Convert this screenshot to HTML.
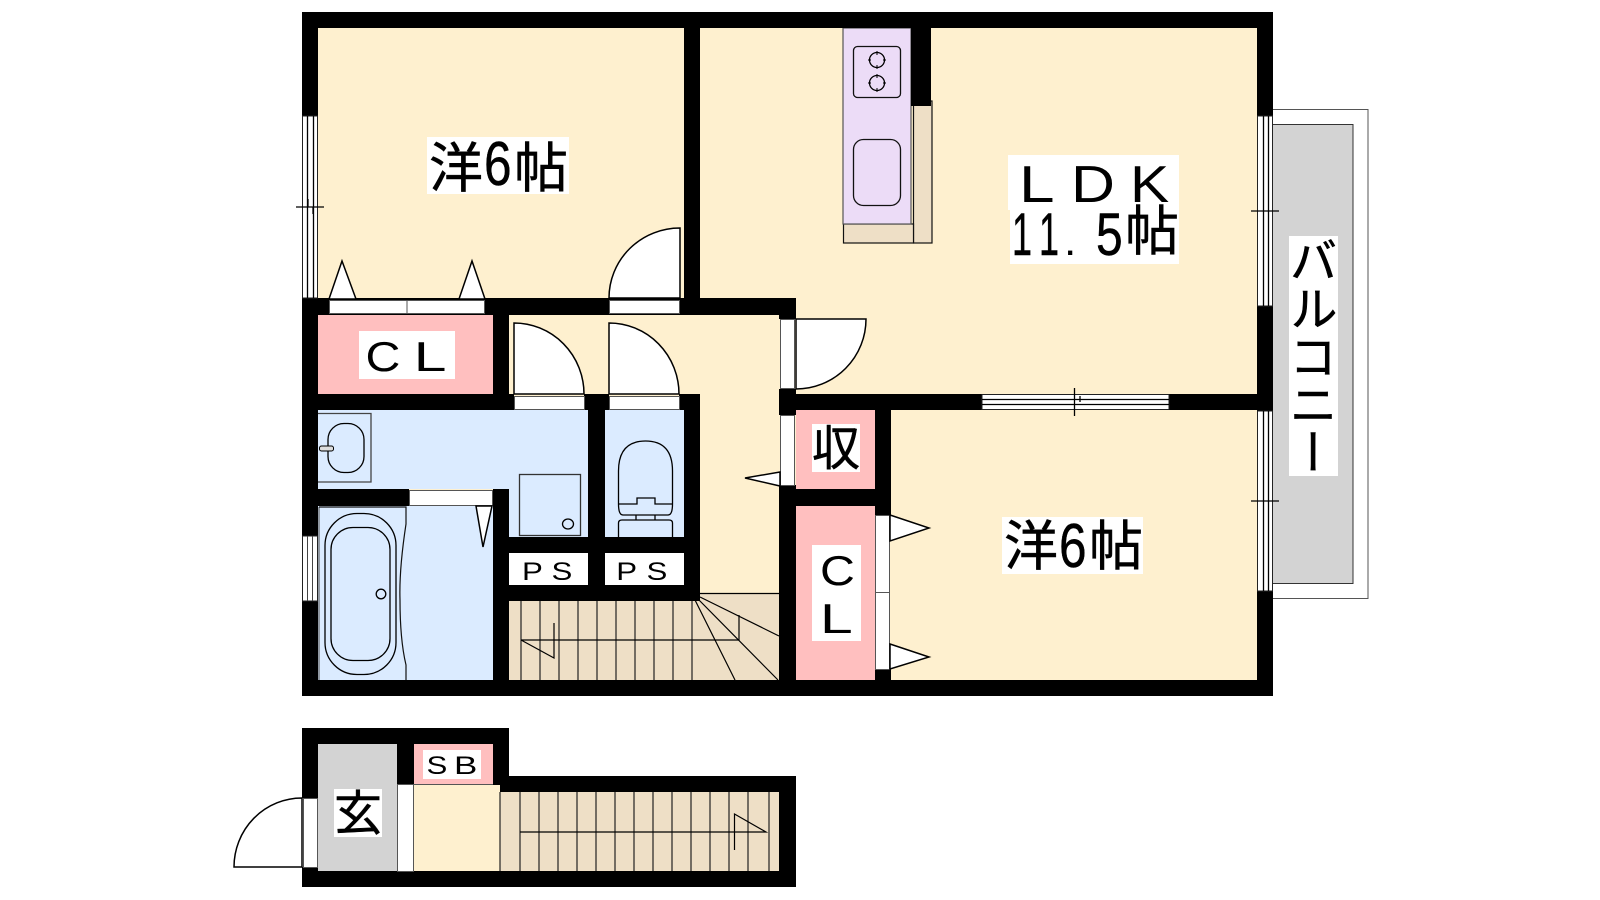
<!DOCTYPE html>
<html><head><meta charset="utf-8"><style>
html,body{margin:0;padding:0;background:#fff}
svg{display:block}
text{font-family:"Liberation Sans","Noto Sans CJK JP",sans-serif;fill:#000}
.j{font-family:"Noto Sans CJK JP","Liberation Sans",sans-serif;stroke:#000;stroke-width:.5}
.n{stroke:#000;stroke-width:.5}
.f{fill:#fff;stroke:#555;stroke-width:1}
.l{fill:none;stroke:#000;stroke-width:1.3}
.d{fill:#fff;stroke:#000;stroke-width:1.5}
.w{stroke:#000;stroke-width:1.3;fill:none}
</style></head><body>
<svg width="1600" height="900" viewBox="0 0 1600 900" xmlns="http://www.w3.org/2000/svg">
<rect width="1600" height="900" fill="#fff"/>
<!-- balcony -->
<rect x="1265" y="109.5" width="103" height="489" fill="#fff" stroke="#555"/>
<rect x="1265" y="124.5" width="88" height="459" fill="#d3d3d3" stroke="#333"/>
<!-- room fills -->
<rect x="310" y="20" width="955" height="668" fill="#fef0cf"/>
<rect x="796" y="410" width="79" height="79" fill="#ffbfbf"/>
<rect x="796" y="506" width="79" height="174" fill="#ffbfbf"/>
<rect x="318" y="315" width="175" height="79" fill="#ffbfbf"/>
<path d="M318 410H588V537H509V489H318Z" fill="#dbebff"/>
<rect x="605" y="410" width="79" height="127" fill="#dbebff"/>
<rect x="318" y="505" width="175" height="175" fill="#dbebff"/>
<rect x="509" y="553" width="79" height="32" fill="#fff"/>
<rect x="605" y="553" width="79" height="32" fill="#fff"/>
<path d="M509 601H700V593H779V680H509Z" fill="#eedfc6"/>
<!-- kitchen -->
<rect x="913.5" y="101" width="18.5" height="142" fill="#eedfc6" stroke="#111" stroke-width="1.2"/>
<rect x="843.5" y="224" width="70" height="19" fill="#eedfc6" stroke="#111" stroke-width="1.2"/>
<rect x="843" y="28" width="68" height="196" fill="#ecdcf7" stroke="#555" stroke-width="1.2"/>
<rect x="853.5" y="46.5" width="47" height="51" rx="4" fill="none" stroke="#111" stroke-width="1.3"/>
<circle cx="877" cy="60" r="7.5" class="l"/><circle cx="877" cy="83" r="7.5" class="l"/>
<path d="M877 51v4M877 65v4M868 60h3M883 60h3M877 74v4M877 88v4M868 83h3M883 83h3" stroke="#000" stroke-width="1"/>
<rect x="853.5" y="139.5" width="47" height="66" rx="10" fill="none" stroke="#111" stroke-width="1.3"/>
<!-- walls -->
<g fill="#000">
<rect x="302" y="12" width="971" height="16"/>
<rect x="302" y="12" width="16" height="104"/>
<rect x="302" y="298" width="16" height="238"/>
<rect x="302" y="601" width="16" height="95"/>
<rect x="302" y="680" width="971" height="16"/>
<rect x="1257" y="12" width="16" height="104"/>
<rect x="1257" y="306" width="16" height="105"/>
<rect x="1257" y="591" width="16" height="105"/>
<rect x="684" y="28" width="16" height="270"/>
<rect x="911" y="28" width="20" height="78"/>
<rect x="302" y="298" width="494" height="17"/>
<rect x="779" y="298" width="17" height="21"/>
<rect x="779" y="389" width="17" height="26"/>
<rect x="779" y="485" width="17" height="211"/>
<rect x="779" y="394" width="203" height="16"/>
<rect x="1169" y="394" width="104" height="16"/>
<rect x="875" y="410" width="16" height="105"/>
<rect x="875" y="669" width="16" height="20"/>
<rect x="796" y="489" width="95" height="17"/>
<rect x="493" y="298" width="16" height="112"/>
<rect x="302" y="394" width="212" height="16"/>
<rect x="584" y="394" width="25" height="16"/>
<rect x="679" y="394" width="21" height="16"/>
<rect x="588" y="394" width="17" height="207"/>
<rect x="684" y="394" width="16" height="207"/>
<rect x="302" y="489" width="107" height="17"/>
<rect x="493" y="489" width="16" height="207"/>
<rect x="493" y="537" width="207" height="16"/>
<rect x="493" y="585" width="207" height="16"/>
<!-- lower block -->
<rect x="302" y="728" width="207" height="16"/>
<rect x="302" y="728" width="16" height="70"/>
<rect x="302" y="867" width="16" height="20"/>
<rect x="302" y="871" width="494" height="16"/>
<rect x="397" y="744" width="17" height="40"/>
<rect x="493" y="728" width="16" height="64"/>
<rect x="493" y="776" width="303" height="16"/>
<rect x="779" y="776" width="17" height="111"/>
</g>
<!-- openings in top walls -->
<rect x="329.5" y="300.5" width="155" height="13" class="f"/><path d="M407 300v14" stroke="#555"/>
<rect x="609.5" y="300.5" width="70" height="13" class="f"/>
<rect x="514.5" y="396.5" width="70" height="13" class="f"/>
<rect x="609.5" y="396.5" width="70" height="13" class="f"/>
<rect x="409.5" y="490.5" width="83" height="15" class="f"/>
<rect x="780.5" y="319.5" width="14" height="69" class="f"/>
<rect x="780.5" y="415.5" width="14" height="70" class="f"/>
<rect x="875.5" y="515.5" width="14" height="154" class="f"/><path d="M875 592.5h15" stroke="#555"/>
<!-- windows -->
<g fill="#fff" stroke="#222" stroke-width="1">
<rect x="302.5" y="116" width="15" height="182"/>
<rect x="1257.5" y="116" width="15" height="190"/>
<rect x="1257.5" y="411" width="15" height="180"/>
<rect x="982" y="394.5" width="187" height="15"/>
<rect x="302.5" y="536" width="15" height="65"/>
</g>
<path d="M307.5 116V298M313.5 116V298M296 207H324M308 199V207M313 207V214" class="w"/>
<path d="M1263.5 116V306M1268.5 116V306M1251 211H1279M1263.5 204V211M1268.5 211V217" class="w"/>
<path d="M1263.5 411V591M1268.5 411V591M1251 501H1279M1263.5 494V501M1268.5 501V507" class="w"/>
<path d="M982 399.5H1169M982 404.5H1169M1074.5 388V416M1080 396V402" class="w"/>
<path d="M307.5 536V601M312.5 536V601" stroke="#444" fill="none"/>
<!-- doors and leaves -->
<path class="d" d="M680 228A71 70 0 0 0 609 298H680Z"/>
<path class="d" d="M514 323A70 71 0 0 1 584 394H514Z"/>
<path class="d" d="M609 323A70 71 0 0 1 679 394H609Z"/>
<path class="d" d="M796 319H866A70 70 0 0 1 796 389Z"/>
<path class="d" d="M329 299L342 261L356 299Z"/>
<path class="d" d="M459 299L472 261L485 299Z"/>
<path class="d" d="M780 472L745 478L780 486Z"/>
<path class="d" d="M890 515L929 528L890 541Z"/>
<path class="d" d="M890 644L929 657L890 669Z"/>
<path class="d" d="M476 506L492 506L483 547Z"/>
<!-- washroom -->
<path d="M318 413.5H371V482H318" fill="none" stroke="#444" stroke-width="1.3"/>
<rect x="328" y="423.5" width="36" height="49" rx="16" class="l"/>
<rect x="319.5" y="446" width="14" height="5" rx="2" fill="#ddd" stroke="#000"/>
<rect x="519.5" y="474.5" width="61" height="61" fill="none" stroke="#333" stroke-width="1.3"/>
<ellipse cx="568" cy="524" rx="5.5" ry="5" class="l"/>
<!-- toilet -->
<path class="l" d="M618.5 504V471Q618.5 441 645.5 441Q672.5 441 672.5 471V504Q672.5 515 668 515H623Q618.5 515 618.5 504ZM618.5 504H637V498H655V504H672.5"/>
<path class="l" d="M636 515V520M655 515V520M618.5 537V523Q618.5 520 622 520H669Q672.5 520 672.5 523V537"/>
<!-- bath -->
<path d="M319 507V680" stroke="#444" fill="none"/>
<path d="M319 507H406V524Q399 570 400 600Q400 640 406 665V680" fill="none" stroke="#111" stroke-width="1.2"/>
<rect x="325" y="513.5" width="71" height="161" rx="32" class="l"/>
<rect x="331" y="527.5" width="59" height="133" rx="22" class="l"/>
<circle cx="381" cy="594" r="4.8" class="l"/>
<!-- stairs up -->
<path d="M521 601V680M540 601V680M559 601V680M578 601V680M597 601V680M616 601V680M635 601V680M654 601V680M673 601V680M692 601V680" stroke="#222" stroke-width="1.2" fill="none"/>
<path d="M521 640H739V615M521 640L554 658V623" stroke="#000" stroke-width="1.2" fill="none"/>
<path d="M695 600L735 680M698 599L778 680M700 597L779 636M700 593.5H779" stroke="#000" stroke-width="1.2" fill="none"/>
<!-- lower rooms -->
<rect x="318" y="744" width="79" height="127" fill="#d3d3d3"/>
<rect x="414" y="744" width="79" height="40" fill="#ffbfbf"/>
<rect x="414" y="785" width="86" height="86" fill="#fef0cf"/>
<path d="M414 784.5H493" stroke="#555"/>
<rect x="500" y="792" width="279" height="79" fill="#eedfc6"/>
<path d="M500 792V871M520 792V871M539 792V871M558 792V871M577 792V871M596 792V871M615 792V871M634 792V871M653 792V871M672 792V871M691 792V871M710 792V871M729 792V871M748 792V871M769 792V871" stroke="#222" stroke-width="1.2" fill="none"/>
<path d="M520 832H766L734.5 814V850" stroke="#000" stroke-width="1.2" fill="none"/>
<rect x="397.5" y="784.5" width="16" height="87" class="f"/>
<rect x="303.5" y="798.5" width="14" height="69" class="f"/>
<path class="d" d="M302 798A68 69 0 0 0 234 867H302Z"/>
<!-- labels -->
<rect x="427" y="137" width="142" height="57" fill="#fff"/>
<text class="j" x="429" y="187" font-size="54">洋</text>
<text class="n" transform="translate(484,185) scale(.8,1)" font-size="62">6</text>
<text class="j" x="514" y="187" font-size="54">帖</text>
<rect x="1002" y="517" width="141" height="57" fill="#fff"/>
<text class="j" x="1004" y="565" font-size="54">洋</text>
<text class="n" transform="translate(1059,567) scale(.8,1)" font-size="62">6</text>
<text class="j" x="1089" y="565" font-size="54">帖</text>
<rect x="1008" y="155" width="171" height="55" fill="#fff"/>
<rect x="1010" y="210" width="169" height="54" fill="#fff"/>
<text transform="translate(1019,202) scale(1.23,1)" font-size="52">L</text>
<text transform="translate(1071,202) scale(1.17,1)" font-size="52">D</text>
<text transform="translate(1130,202) scale(1.13,1)" font-size="52">K</text>
<text class="n" transform="translate(1012,255) scale(.6,1)" font-size="60">1</text>
<text class="n" transform="translate(1039,255) scale(.6,1)" font-size="60">1</text>
<text x="1066" y="255" font-size="30" font-weight="bold">.</text>
<text class="n" transform="translate(1096,255) scale(.8,1)" font-size="60">5</text>
<text class="j" x="1125" y="250" font-size="54">帖</text>
<rect x="359" y="331" width="96" height="48" fill="#fff"/>
<text transform="translate(365.5,371) scale(1.15,1)" font-size="42">C</text>
<text transform="translate(413.7,371) scale(1.4,1)" font-size="42">L</text>
<rect x="812" y="424" width="48" height="48" fill="#fff"/>
<text class="j" x="812" y="465" font-size="48">収</text>
<rect x="812" y="545" width="49" height="96" fill="#fff"/>
<text transform="translate(820,585) scale(1.15,1)" font-size="42">C</text>
<text transform="translate(820,633) scale(1.4,1)" font-size="42">L</text>
<text transform="translate(522,580) scale(1.25,1)" font-size="25">P</text>
<text transform="translate(551.5,580) scale(1.25,1)" font-size="25">S</text>
<text transform="translate(616.3,580) scale(1.25,1)" font-size="25">P</text>
<text transform="translate(646.5,580) scale(1.25,1)" font-size="25">S</text>
<rect x="334" y="789" width="48" height="48" fill="#fff"/>
<text class="j" x="334" y="830" font-size="48">玄</text>
<rect x="423" y="750" width="58" height="29" fill="#fff"/>
<text transform="translate(426.5,774) scale(1.25,1)" font-size="25">S</text>
<text transform="translate(454,774) scale(1.4,1)" font-size="25">B</text>
<rect x="1289" y="236" width="49" height="240" fill="#fff"/>
<text class="j" x="1313.5" y="236" font-size="48" style="writing-mode:vertical-rl">バルコニー</text>
</svg>
</body></html>
